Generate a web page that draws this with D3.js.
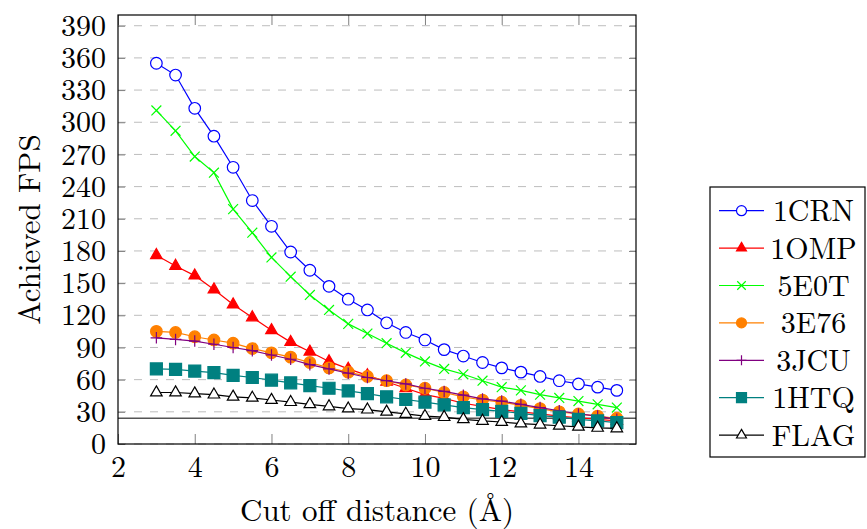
<!DOCTYPE html>
<html>
<head>
<meta charset="utf-8">
<script src="https://cdn.jsdelivr.net/npm/d3@7"></script>
<style>
  body { margin: 0; background: #fff; }
  svg { display: block; }
</style>
</head>
<body>
<div id="chart"></div>
<script>
// cut off distance on the x axis
var cutoff = [3, 3.5, 4, 4.5, 5, 5.5, 6, 6.5, 7, 7.5, 8, 8.5, 9, 9.5, 10, 10.5, 11, 11.5, 12, 12.5, 13, 13.5, 14, 14.5, 15];

// achieved fps for every molecule
var fps1CRN = [355, 344, 313, 287, 258, 227, 203, 179, 162, 147, 135, 125, 113, 104, 97, 88, 82, 76, 71, 67, 63, 59, 56, 53, 50];
var fps1OMP = [176, 166, 157, 144, 130, 118, 106, 95, 86, 77, 70, 64, 58, 52, 46, 42.5, 38, 35, 32, 30, 28, 26, 24.5, 23, 21.5];
var fps5E0T = [311, 292, 268, 253, 219, 197, 174, 156, 139, 125, 112, 103, 94, 85, 77, 70, 65, 59, 53, 50, 46, 43, 40, 37, 34];
var fps3E76 = [105, 104, 100, 97, 94, 89, 85, 81, 76, 71, 67, 63, 59, 55, 52, 48, 44, 41, 39, 36, 33, 30, 28, 26, 24];
var fps3JCU = [99, 97.5, 96, 93, 90, 87, 83, 79, 74, 70, 66, 62, 59, 56, 52, 49, 45.5, 42, 40, 37, 34, 31, 28, 26, 23];
var fps1HTQ = [70, 69.5, 68, 66.5, 64, 62, 59.5, 57, 54.5, 52, 49.5, 47, 44, 41.5, 39, 36.5, 34, 32, 30.5, 28.5, 26.5, 25, 23, 21.5, 20];
var fpsFLAG = [48, 48, 47, 46, 44, 43, 41, 39, 37, 35, 33, 32, 30, 28, 26, 25, 23, 21.5, 20.5, 19, 18, 17, 16, 15, 14.5];

var names = ["1CRN", "1OMP", "5E0T", "3E76", "3JCU", "1HTQ", "FLAG"];
var colors = ["#0000ff", "#ff0000", "#00ff00", "#ff8000", "#800080", "#008080", "#000000"];
var marks = ["circle", "triangle", "x", "dot", "plus", "square", "otriangle"];

var xTicks = [2, 4, 6, 8, 10, 12, 14];
var yTicks = [0, 30, 60, 90, 120, 150, 180, 210, 240, 270, 300, 330, 360, 390];
var threshold = 24;

var seriesValues = [fps1CRN, fps1OMP, fps5E0T, fps3E76, fps3JCU, fps1HTQ, fpsFLAG];

var FONT = "'Latin Modern Roman', 'Liberation Serif', serif";

var margin = {
    left: 118,
    right: 231,
    top: 15,
    bottom: 85
};

var width = 867 - margin.left - margin.right,
    height = 529 - margin.top - margin.bottom;

var svg = d3.select("#chart")
    .append("svg")
    .attr("width", 867)
    .attr("height", 529);

var xScale = d3.scaleLinear()
    .domain([2, 15.5])
    .range([0, width]);

var yScale = d3.scaleLinear()
    .domain([0, 400])
    .range([height, 0]);

var chartGroup = svg.append("g")
    .attr("transform", "translate(" + margin.left + "," + margin.top + ")");

//marker shapes drawn around the point
function markPath(type, s) {
    if (type == "circle" || type == "dot") {
        return "M" + s + ",0A" + s + "," + s + " 0 1,1 " + (-s) + ",0A" + s + "," + s + " 0 1,1 " + s + ",0Z";
    }
    if (type == "triangle" || type == "otriangle") {
        var r = s * 1.15;
        return "M0," + (-r) + "L" + (r * 0.866) + "," + (r / 2) + "L" + (-r * 0.866) + "," + (r / 2) + "Z";
    }
    if (type == "square") {
        return "M" + (-s) + "," + (-s) + "H" + s + "V" + s + "H" + (-s) + "Z";
    }
    if (type == "x") {
        var a = s * 0.85;
        return "M" + (-a) + "," + (-a) + "L" + a + "," + a + "M" + (-a) + "," + a + "L" + a + "," + (-a);
    }
    // plus
    return "M0," + (-s) + "V" + s + "M" + (-s) + ",0H" + s;
}

function styleMark(sel, type, color) {
    sel.attr("stroke", color)
        .attr("stroke-width", 1.2);
    if (type == "circle" || type == "otriangle") {
        sel.attr("fill", "#fff");
    } else if (type == "x" || type == "plus") {
        sel.attr("fill", "none");
    } else {
        sel.attr("fill", color);
    }
}

//grid lines
chartGroup.append("g")
    .selectAll("line")
    .data(yTicks)
    .enter()
    .append("line")
    .attr("x1", 0)
    .attr("x2", width)
    .attr("y1", function (d) { return yScale(d); })
    .attr("y2", function (d) { return yScale(d); })
    .attr("stroke", "#bdbdbd")
    .attr("stroke-width", 1)
    .attr("stroke-dasharray", "8,8");

//axes (ticks inside, like pgfplots)
var xAxis = d3.axisBottom(xScale).tickValues(xTicks).tickSizeInner(-10).tickSizeOuter(0).tickPadding(12),
    yAxis = d3.axisLeft(yScale).tickValues(yTicks).tickSizeInner(-7).tickSizeOuter(0).tickPadding(12);

var xg = chartGroup.append("g")
    .attr("class", "axis x")
    .attr("transform", "translate(0," + height + ")")
    .call(xAxis);

var yg = chartGroup.append("g")
    .attr("class", "axis y")
    .call(yAxis);

[xg, yg].forEach(function (g) {
    g.select(".domain").remove();
    g.selectAll(".tick line").attr("stroke", "#808080");
    g.selectAll(".tick text")
        .style("font-family", FONT)
        .style("font-size", "30px")
        .attr("fill", "#000");
});

//mirror ticks on the top and right
chartGroup.append("g")
    .call(d3.axisTop(xScale).tickValues(xTicks).tickSizeInner(-10).tickSizeOuter(0).tickFormat(""))
    .call(function (g) {
        g.select(".domain").remove();
        g.selectAll(".tick line").attr("stroke", "#808080");
    });
chartGroup.append("g")
    .attr("transform", "translate(" + width + ",0)")
    .call(d3.axisRight(yScale).tickValues(yTicks).tickSizeInner(-7).tickSizeOuter(0).tickFormat(""))
    .call(function (g) {
        g.select(".domain").remove();
        g.selectAll(".tick line").attr("stroke", "#808080");
    });

//24 fps line
chartGroup.append("line")
    .attr("x1", 0)
    .attr("x2", width)
    .attr("y1", yScale(threshold))
    .attr("y2", yScale(threshold))
    .attr("stroke", "#555")
    .attr("stroke-width", 1.4);

//draw lines and marks
var line = d3.line()
    .x(function (d, i) { return xScale(cutoff[i]); })
    .y(function (d) { return yScale(d); });

seriesValues.forEach(function (vals, k) {
    chartGroup.append("path")
        .attr("d", line(vals))
        .attr("fill", "none")
        .attr("stroke-width", 1.2)
        .attr("stroke", colors[k]);

    chartGroup.append("g")
        .selectAll("path")
        .data(vals)
        .enter()
        .append("path")
        .attr("transform", function (d, i) {
            return "translate(" + xScale(cutoff[i]) + "," + yScale(d) + ")";
        })
        .attr("d", markPath(marks[k], marks[k] == "square" ? 6 : 5.8))
        .call(styleMark, marks[k], colors[k]);
});

//frame
chartGroup.append("rect")
    .attr("width", width)
    .attr("height", height)
    .attr("fill", "none")
    .attr("stroke", "#000")
    .attr("stroke-width", 1.2);

//axis titles
svg.append("text")
    .attr("x", margin.left + width / 2)
    .attr("y", 521)
    .attr("text-anchor", "middle")
    .style("font-family", FONT)
    .style("font-size", "31px")
    .text("Cut off distance (Å)");

svg.append("text")
    .attr("transform", "translate(40," + (margin.top + height / 2) + ") rotate(-90)")
    .attr("text-anchor", "middle")
    .style("font-family", FONT)
    .style("font-size", "31px")
    .text("Achieved FPS");

//legend
var legend = svg.append("g")
    .attr("transform", "translate(710,187)");

legend.append("rect")
    .attr("width", 155)
    .attr("height", 270)
    .attr("fill", "#fff")
    .attr("stroke", "#000")
    .attr("stroke-width", 1.2);

var rows = legend.selectAll("g.row")
    .data(names)
    .enter()
    .append("g")
    .attr("class", "row")
    .attr("transform", function (d, i) { return "translate(0," + (23.7 + i * 37.4) + ")"; });

rows.append("line")
    .attr("x1", 9)
    .attr("x2", 54)
    .attr("stroke", function (d, i) { return colors[i]; })
    .attr("stroke-width", 1.2);

rows.append("path")
    .attr("transform", "translate(31.5,0)")
    .attr("d", function (d, i) { return markPath(marks[i], 5); })
    .each(function (d, i) { d3.select(this).call(styleMark, marks[i], colors[i]); });

rows.append("text")
    .attr("x", 103.5)
    .attr("dy", "0.35em")
    .attr("text-anchor", "middle")
    .style("font-family", FONT)
    .style("font-size", "30px")
    .text(function (d) { return d; });
</script>
</body>
</html>
